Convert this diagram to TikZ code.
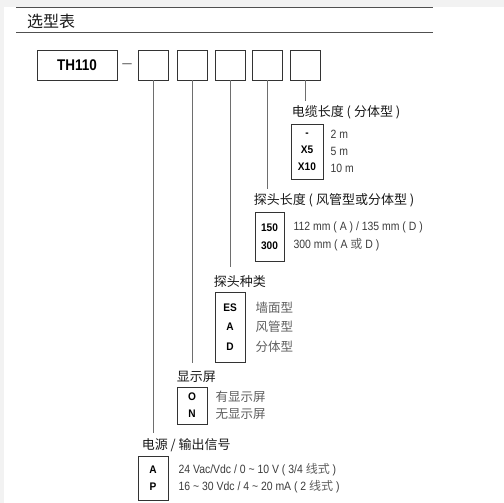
\documentclass[tikz,border=0pt]{standalone}
\usepackage{fontspec}
\setmainfont{Liberation Sans}
\newfontfamily\narrowfont[FakeStretch=0.87]{Liberation Sans}
\newfontfamily\codefont[FakeStretch=0.92]{Liberation Sans}
\newfontfamily\cjk{Noto Sans CJK SC}
\usetikzlibrary{positioning}
\definecolor{pageGray}{RGB}{242, 242, 242}
\definecolor{ruleGray}{RGB}{80, 80, 80}
\definecolor{boxInk}{RGB}{51, 51, 51}
\definecolor{linkGray}{RGB}{110, 110, 110}
\definecolor{descGray}{RGB}{60, 60, 60}
\definecolor{descLight}{RGB}{95, 95, 95}
\definecolor{headInk}{RGB}{26, 26, 26}

\begin{document}
\begin{tikzpicture}[
        x=1pt, y=-1pt,
        rule/.style={draw=ruleGray, line width=1.3pt},
        selbox/.style={draw=boxInk, line width=0.8pt, minimum width=30pt, minimum height=30pt, inner sep=0pt},
        codebox/.style={draw=boxInk, line width=0.8pt, align=center, inner sep=0pt, text=black},
        desc/.style={align=left, inner sep=0pt, text=descGray},
        heading/.style={inner sep=0pt, font=\cjk\fontsize{13pt}{15pt}\selectfont\color{headInk}},
        link/.style={draw=linkGray, line width=0.8pt}
    ]
        % page
        \fill[pageGray] (0, 0) rectangle (504, 503);
        \fill[white] (4, 7) rectangle (504, 503);
        \draw[rule] (16, 7.5) -- (433, 7.5);
        \node[anchor=west, inner sep=0pt, font=\cjk\fontsize{16pt}{18pt}\selectfont\color{headInk}] (title) at (27, 21) {选型表};
        \draw[rule] (16, 32.5) -- (433, 32.5);

        % Model code
        \node[selbox, minimum width=80pt, font=\narrowfont\fontsize{15.5pt}{17pt}\selectfont\bfseries] (model) at (77, 65) {TH110};
        \node[inner sep=0pt, text=linkGray, font=\fontsize{17pt}{18pt}\selectfont] (dash) at (127, 66) {--};
        \node[selbox] (s1) at (153, 65) {};
        \node[selbox] (s2) at (192, 65) {};
        \node[selbox] (s3) at (230, 65) {};
        \node[selbox] (s4) at (267, 65) {};
        \node[selbox] (s5) at (305, 65) {};
        \coordinate (e1) at (153, 433);
        \coordinate (e2) at (192, 363);
        \coordinate (e3) at (230, 267);
        \coordinate (e4) at (267, 189);
        \coordinate (e5) at (305, 101);
        \draw[link] (s1) -- (e1);
        \draw[link] (s2) -- (e2);
        \draw[link] (s3) -- (e3);
        \draw[link] (s4) -- (e4);
        \draw[link] (s5) -- (e5);

        % Cable length
        \node[codebox, minimum width=32pt, minimum height=55pt, font=\codefont\fontsize{11pt}{17pt}\selectfont\bfseries] (cable) at (307, 151.5) {-\\X5\\X10};
        \node[heading, above right=4pt and 1pt of cable.north west] (cableHead) {电缆长度 ( 分体型 )};
        \node[desc, right=7pt of cable, font=\narrowfont\fontsize{12pt}{17pt}\selectfont] (cableDesc) {2 m\\5 m\\10 m};

        % Probe length
        \node[codebox, minimum width=29pt, minimum height=49pt, font=\codefont\fontsize{11pt}{18pt}\selectfont\bfseries] (plen) at (269.5, 236.5) {150\\300};
        \node[heading, above right=4pt and -1pt of plen.north west] (plenHead) {探头长度 ( 风管型或分体型 )};
        \node[desc, right=9pt of plen, font=\narrowfont\fontsize{12pt}{18pt}\selectfont] (plenDesc) {112 mm ( A ) / 135 mm ( D )\\300 mm ( A {\cjk\color{descLight} 或} D )};

        % Probe type
        \node[codebox, minimum width=30pt, minimum height=70pt, font=\codefont\fontsize{11pt}{19.5pt}\selectfont\bfseries] (ptype) at (230, 327) {ES\\A\\D};
        \node[heading, above right=4pt and -1pt of ptype.north west] (ptypeHead) {探头种类};
        \node[desc, right=10pt of ptype, text=descLight, font=\cjk\fontsize{12.5pt}{19.5pt}\selectfont] (ptypeDesc) {墙面型\\风管型\\分体型};

        % Display
        \node[codebox, minimum width=30pt, minimum height=37pt, font=\codefont\fontsize{11pt}{17pt}\selectfont\bfseries] (disp) at (192, 405.5) {O\\N};
        \node[heading, above right=4pt and 0pt of disp.north west] (dispHead) {显示屏};
        \node[desc, right=8pt of disp, text=descLight, font=\cjk\fontsize{12.5pt}{17pt}\selectfont] (dispDesc) {有显示屏\\无显示屏};

        % Power / output
        \node[codebox, minimum width=30pt, minimum height=44pt, font=\codefont\fontsize{11pt}{17pt}\selectfont\bfseries] (power) at (153, 478) {A\\P};
        \node[heading, above right=4pt and 4pt of power.north west] (powerHead) {电源 / 输出信号};
        \node[desc, right=10pt of power, font=\narrowfont\fontsize{12pt}{17pt}\selectfont] (powerDesc) {24 Vac/Vdc / 0 \textasciitilde\ 10 V ( 3/4 {\cjk\color{descLight} 线式} )\\16 \textasciitilde\ 30 Vdc / 4 \textasciitilde\ 20 mA ( 2 {\cjk\color{descLight} 线式} )};
    \end{tikzpicture}
\end{document}
